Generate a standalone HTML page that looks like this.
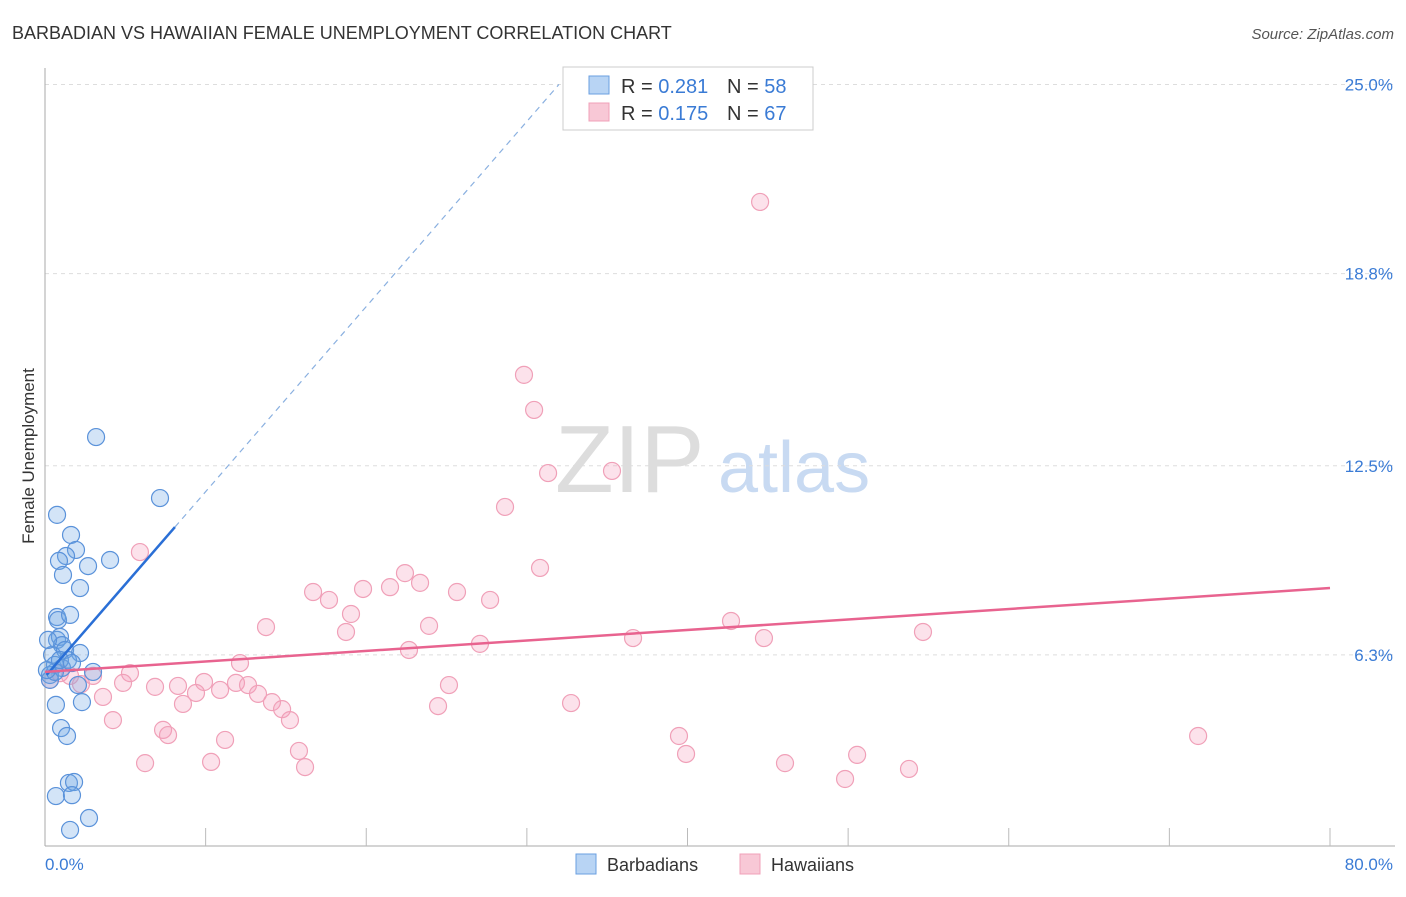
<!DOCTYPE html>
<html><head><meta charset="utf-8"><style>
body{margin:0;background:#fff;font-family:"Liberation Sans",sans-serif}
svg text{font-family:"Liberation Sans",sans-serif}
</style></head><body>
<svg id="c" width="1406" height="892" viewBox="0 0 1406 892">
<text x="12" y="39" font-size="18" fill="#333">BARBADIAN VS HAWAIIAN FEMALE UNEMPLOYMENT CORRELATION CHART</text>
<text x="1394" y="39" font-size="15" fill="#555" font-style="italic" text-anchor="end">Source: ZipAtlas.com</text>
<text x="34" y="456" font-size="17" fill="#333" text-anchor="middle" transform="rotate(-90 34 456)">Female Unemployment</text>
<text x="555" y="492" font-size="96" fill="#ddd" font-family="Liberation Serif">ZIP</text>
<text x="718" y="492" font-size="72" fill="#c8daf2">atlas</text>
<g id="grid"></g><g id="axes"></g><g id="pts"></g><g id="lines"></g>
<g>
<rect x="563" y="67" width="250" height="63" fill="#fff" stroke="#ccc"/>
<rect x="589" y="76" width="20" height="18" fill="#b8d4f4" stroke="#6a9fe0"/>
<rect x="589" y="103" width="20" height="18" fill="#f8c8d6" stroke="#f0a0b8"/>
<text x="621" y="93" font-size="20" fill="#333">R = <tspan fill="#3a7bd5">0.281</tspan></text>
<text x="727" y="93" font-size="20" fill="#333">N = <tspan fill="#3a7bd5">58</tspan></text>
<text x="621" y="120" font-size="20" fill="#333">R = <tspan fill="#3a7bd5">0.175</tspan></text>
<text x="727" y="120" font-size="20" fill="#333">N = <tspan fill="#3a7bd5">67</tspan></text>
</g>
<g>
<rect x="576" y="854" width="20" height="20" fill="#b8d4f4" stroke="#6a9fe0"/>
<text x="607" y="871" font-size="18" fill="#333">Barbadians</text>
<rect x="740" y="854" width="20" height="20" fill="#f8c8d6" stroke="#f0a0b8"/>
<text x="771" y="871" font-size="18" fill="#333">Hawaiians</text>
</g>
</svg>
<script>
const yTicks=[6.3,12.5,18.8,25.0];
const yTickLabels=["6.3%","12.5%","18.8%","25.0%"];
const xTickLabels=["0.0%","80.0%"];
const blueX=[3.18,7.16,0.75,1.62,1.93,1.31,0.87,2.68,4.05,1.12,2.18,0.75,0.81,1.56,0.75,0.93,1.06,0.44,1.25,2.18,1.43,0.62,2.99,0.31,1.06,2.05,2.30,0.68,1.00,1.37,1.49,1.81,0.68,1.68,1.56,2.74,0.31,0.62,0.12,0.93,1.68,0.19];
const blueY=[13.44,11.44,10.89,10.23,9.74,9.54,9.38,9.21,9.41,8.92,8.49,7.54,7.44,7.61,6.79,6.89,6.62,6.30,6.46,6.36,6.13,5.97,5.74,5.64,5.87,5.31,4.75,4.66,3.90,3.64,2.10,2.13,1.67,1.70,0.56,0.95,5.48,5.74,5.80,6.13,6.03,6.79];
const pinkX=[44.52,29.82,30.45,35.30,31.32,28.64,30.82,5.91,22.41,23.35,16.69,19.80,21.48,25.65,17.68,27.71,19.05,13.76,18.74,23.91,42.71,54.66,36.61,44.76,27.08,22.66,12.14,5.29,2.99,4.86,6.85,8.28,9.90,11.89,12.64,10.90,9.40,13.26,2.24,25.15,8.59,14.13,14.76,24.47,32.75,15.25,4.23,3.61,7.35,7.66,11.21,39.47,71.79,15.81,39.91,50.56,6.23,10.34,16.19,46.07,53.79,49.81,0.31,0.93,1.56];
const pinkY=[21.15,15.48,14.33,12.33,12.26,11.15,9.15,9.67,8.98,8.66,8.36,8.46,8.52,8.36,8.10,8.10,7.64,7.21,7.05,7.25,7.41,7.05,6.85,6.85,6.66,6.46,6.03,5.70,5.61,5.38,5.25,5.28,5.41,5.38,5.31,5.15,5.05,5.02,5.34,5.31,4.69,4.75,4.52,4.62,4.72,4.16,4.16,4.92,3.84,3.67,3.51,3.64,3.64,3.15,3.05,3.02,2.75,2.79,2.62,2.75,2.56,2.23,5.48,5.70,5.61];
const blueLine=[0.1,5.64,8.09,10.49,32.0];
const pinkLine=[0,5.74,80,8.49];
const NS="http://www.w3.org/2000/svg";
const sx=v=>45+v*(1285/80);
const sy=v=>847-v*30.5;
function mk(t,a,p){const e=document.createElementNS(NS,t);for(const k in a)e.setAttribute(k,a[k]);p.appendChild(e);return e;}
const grid=document.getElementById('grid'),axes=document.getElementById('axes'),pts=document.getElementById('pts'),lines=document.getElementById('lines');
yTicks.forEach((t,i)=>{
 const g=mk('line',{x1:45,x2:1395,y1:sy(t),y2:sy(t),stroke:'#ddd','stroke-dasharray':'4,4'},grid);
 
 
 const l=mk('text',{x:1393,y:sy(t)+6,'font-size':17,fill:'#3a7bd5','text-anchor':'end'},grid);
 l.textContent=yTickLabels[i];
 
 
});
const ya=mk('line',{x1:45,x2:45,y1:68,y2:846,stroke:'#aaa'},axes);


const xa=mk('line',{x1:45,x2:1395,y1:846,y2:846,stroke:'#aaa'},axes);


for(let k=1;k<=8;k++){
 const tk=mk('line',{x1:sx(k*10),x2:sx(k*10),y1:828,y2:846,stroke:'#bbb'},axes);
 
 
}
const xl0=mk('text',{x:45,y:870,'font-size':17,fill:'#3a7bd5'},axes);
xl0.textContent=xTickLabels[0];


const xl1=mk('text',{x:1393,y:870,'font-size':17,fill:'#3a7bd5','text-anchor':'end'},axes);
xl1.textContent=xTickLabels[1];


pinkX.forEach((x,i)=>{
 const c=mk('circle',{cx:sx(x),cy:sy(pinkY[i]),r:8.5,fill:'rgba(244,160,188,0.3)',stroke:'#f0a0b8','stroke-width':1.2},pts);
 
 
});
blueX.forEach((x,i)=>{
 const c=mk('circle',{cx:sx(x),cy:sy(blueY[i]),r:8.5,fill:'rgba(110,165,230,0.3)',stroke:'#5a92da','stroke-width':1.2},pts);
 
 
});
const bs=(blueLine[3]-blueLine[1])/(blueLine[2]-blueLine[0]);
const bl=mk('line',{x1:sx(blueLine[0]),y1:sy(blueLine[1]),x2:sx(blueLine[2]),y2:sy(blueLine[3]),stroke:'#2a6fd6','stroke-width':2.5},lines);


const bd=mk('line',{x1:sx(blueLine[2]),y1:sy(blueLine[3]),x2:sx(blueLine[4]),y2:sy(blueLine[3]+bs*(blueLine[4]-blueLine[2])),stroke:'#8ab0e0','stroke-width':1.2,'stroke-dasharray':'6,5'},lines);


const pl=mk('line',{x1:sx(pinkLine[0]),y1:sy(pinkLine[1]),x2:sx(pinkLine[2]),y2:sy(pinkLine[3]),stroke:'#e8638f','stroke-width':2.5},lines);


</script>
</body></html>
